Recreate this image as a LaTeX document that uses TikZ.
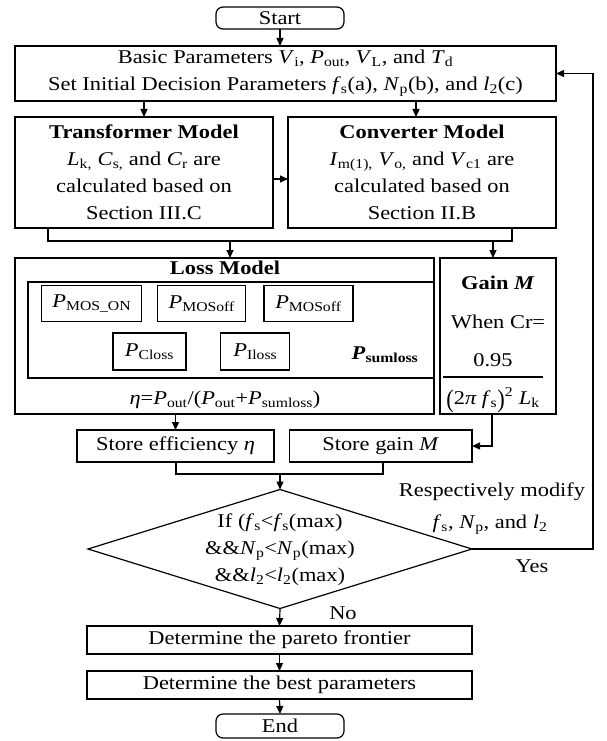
\documentclass[tikz,border=0pt]{standalone}
\usepackage{fontspec}
\usepackage{graphicx}
\setmainfont{Liberation Serif}[FakeStretch=1.15]
\usetikzlibrary{arrows.meta,shapes.geometric}
\newcommand{\vsub}[2]{\textit{#1}\textsubscript{#2}}
\begin{document}
\begin{tikzpicture}[x=1pt,y=-1pt,
  every node/.style={font=\fontsize{19.5}{27}\selectfont, inner sep=0pt, outer sep=0pt},
  box/.style={draw, line width=1.2pt, align=center},
  term/.style={box, rounded corners=7pt},
  ln/.style={line width=1.2pt},
  arr/.style={ln, -{Triangle[length=8pt,width=7pt]}},
  lbl/.style={align=center}]
\useasboundingbox (0,0) rectangle (606,741);

% terminals and main boxes
\node[term, minimum width=128pt, minimum height=22pt] (start) at (280,18) {Start};
\node[box, minimum width=541pt, minimum height=55pt] (basic) at (285.5,73.5)
  {Basic Parameters \vsub{V}{i}, \vsub{P}{out}, \vsub{V}{L}, and \vsub{T}{d}\\
   Set Initial Decision Parameters \vsub{f}{s}(a), \vsub{N}{p}(b), and \vsub{l}{2}(c)};
\node[box, minimum width=258pt, minimum height=111pt] (trans) at (144,172.5)
  {\textbf{Transformer Model}\\ \vsub{L}{k,} \vsub{C}{s,} and \vsub{C}{r} are\\ calculated based on\\ Section III.C};
\node[box, minimum width=268pt, minimum height=111pt] (conv) at (422,172.5)
  {\textbf{Converter Model}\\ \vsub{I}{m(1),} \vsub{V}{o,} and \vsub{V}{c1} are\\ calculated based on\\ Section II.B};

% loss model
\node[box, minimum width=419pt, minimum height=156pt] (loss) at (224.5,336) {};
\node[box, minimum width=406pt, minimum height=96pt] (inner) at (231,330) {};
\node[lbl] (losstitle) at (225,268) {\textbf{Loss Model}};
\node[box, minimum width=100pt, minimum height=36pt] (pmoson) at (91.8,303.7) {\vsub{P}{MOS\_ON}};
\node[box, minimum width=88pt, minimum height=36pt] (pmosoffa) at (201.8,303.7) {\vsub{P}{MOSoff}};
\node[box, minimum width=89pt, minimum height=36pt] (pmosoffb) at (308.4,303.7) {\vsub{P}{MOSoff}};
\node[box, minimum width=73pt, minimum height=37pt] (pcloss) at (149.5,351.5) {\vsub{P}{Closs}};
\node[box, minimum width=69pt, minimum height=37pt] (piloss) at (255.3,351.5) {\vsub{P}{Iloss}};
\node[lbl] (psum) at (385,355) {\textbf{\textit{P}\textsubscript{sumloss}}};
\node[lbl] (eta) at (225,400) {\textit{η}=\vsub{P}{out}/(\vsub{P}{out}+\vsub{P}{sumloss})};

% gain
\node[box, minimum width=116pt, minimum height=156pt] (gain) at (498,336) {};
\node[lbl] (gaint) at (498,283) {\textbf{Gain \textit{M}}};
\node[lbl] (when) at (498,322) {When Cr=};
\node[lbl] (num) at (493,360) {0.95};
\coordinate (fl) at (443,377);
\coordinate (fr) at (543,377);
\draw[ln] (fl) -- (fr);
\node[lbl] (den) at (493,400) {\raisebox{-0.15em}{\scalebox{1}[1.3]{(}}2\textit{π f}\textsubscript{s}\raisebox{-0.15em}{\scalebox{1}[1.3]{)}}\textsuperscript{2} \vsub{L}{k}};

% store boxes
\node[box, minimum width=197pt, minimum height=32pt] (storeeff) at (175.5,446) {Store efficiency \textit{η}};
\node[box, minimum width=182.5pt, minimum height=32pt] (storegain) at (380.75,446) {Store gain \textit{M}};

% decision
\node[draw, diamond, line width=1.2pt, minimum width=384pt, minimum height=119pt] (dec) at (280,549) {};
\node[lbl] (dect) at (280,550) {If (\vsub{f}{s}<\vsub{f}{s}(max)\\ \&\&\vsub{N}{p}<\vsub{N}{p}(max)\\ \&\&\vsub{l}{2}<\vsub{l}{2}(max)};
\node[lbl] (resp) at (492,492) {Respectively modify};
\node[lbl] (respb) at (490,525) {\vsub{f}{s}, \vsub{N}{p}, and \vsub{l}{2}};
\node[lbl] (yes) at (532,566) {Yes};
\node[lbl] (no) at (343,613) {No};

% bottom
\node[box, minimum width=385pt, minimum height=28pt] (pareto) at (279.5,640) {Determine the pareto frontier};
\node[box, minimum width=385pt, minimum height=28pt] (best) at (279.5,685) {Determine the best parameters};
\node[term, minimum width=128pt, minimum height=24pt] (end) at (280,726) {End};

% connectors
\draw[arr] (start.south) -- (start.south |- basic.north);
\draw[arr] (trans.north |- basic.south) -- (trans.north);
\draw[arr] ([xshift=130.5pt]basic.south) -- ([xshift=-6pt]conv.north);
\draw[arr] ([yshift=-6.5pt]trans.east) -- ([yshift=-6.5pt]conv.west);
\coordinate (j1) at (48,241);
\coordinate (j2) at (512,241);
\coordinate (ja) at (230,241);
\coordinate (jb) at (493,241);
\draw[ln] (j1 |- trans.south) -- (j1) -- (j2) -- (j2 |- conv.south);
\draw[arr] (ja) -- (ja |- loss.north);
\draw[arr] (jb) -- (jb |- gain.north);
\draw[arr] (storeeff.north |- loss.south) -- (storeeff.north);
\draw[arr] ([xshift=-6pt]gain.south) |- (storegain.east);
\coordinate (m1) at (176,474);
\coordinate (m2) at (383,474);
\coordinate (m3) at (280,474);
\draw[ln] (m1 |- storeeff.south) -- (m1) -- (m2) -- (m2 |- storegain.south);
\draw[arr] (m3) -- (dec.north);
\coordinate (fb) at (593,73.5);
\draw[arr] (dec.east) -| (fb) -- (basic.east);
\draw[arr] (dec.south) -- (pareto.north);
\draw[arr] (pareto.south) -- (best.north);
\draw[arr] (best.south) -- (end.north);
\end{tikzpicture}
\end{document}
